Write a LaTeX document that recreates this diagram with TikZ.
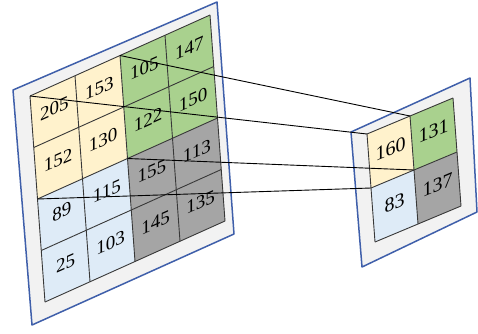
\documentclass[tikz,border=0pt]{standalone}
\usepackage{fontspec}
\setmainfont{Liberation Serif}
\usetikzlibrary{calc}
\definecolor{CellCream}{HTML}{FFF2CC}
\definecolor{CellGreen}{HTML}{A9D18E}
\definecolor{CellBlue}{HTML}{DEEBF7}
\definecolor{CellGray}{HTML}{A5A5A5}
\definecolor{FrameFill}{HTML}{F2F2F2}
\definecolor{FrameBlue}{HTML}{3F5FAA}
\definecolor{GridDark}{HTML}{383838}

\begin{document}
\begin{tikzpicture}[x=1pt, y=-1pt,
    frame/.style={fill=FrameFill, draw=FrameBlue, line width=1.5pt, line join=round},
    gridline/.style={draw=GridDark, line width=0.9pt},
    link/.style={draw=black, line width=0.9pt},
    leftnum/.style={inner sep=0pt, font=\fontsize{19}{19}\selectfont, yslant=0.45},
    rightnum/.style={inner sep=0pt, font=\fontsize{20}{20}\selectfont, yslant=0.42}]
  \useasboundingbox (0,0) rectangle (478,333);

  % --- GEOMETRIC VARIABLES ---
  % input grid: corner, column step, row step
  \def\LX{30}   \def\LY{96}
  \def\LUx{45}  \def\LUy{-20.25}
  \def\LVx{3.75}\def\LVy{51.5}
  % pooled grid
  \def\RX{367}  \def\RY{134}
  \def\RUx{43}  \def\RUy{-18}
  \def\RVx{4}   \def\RVy{54}

  % =====================================================================
  % 1. FRAMES
  % =====================================================================
  \draw[frame] (13,90) -- (217,2) -- (234,234) -- (32,325) -- cycle;
  \draw[frame] (351,132) -- (470,78) -- (477,212) -- (362,267) -- cycle;

  % corner points of both grids
  \foreach \r in {0,...,4}
    \foreach \c in {0,...,4}
      \coordinate (L-\r-\c) at ({\LX+\LUx*\c+\LVx*\r},{\LY+\LUy*\c+\LVy*\r});
  \foreach \r in {0,1,2}
    \foreach \c in {0,1,2}
      \coordinate (R-\r-\c) at ({\RX+\RUx*\c+\RVx*\r},{\RY+\RUy*\c+\RVy*\r});

  % =====================================================================
  % 2. INPUT GRID (4x4, four 2x2 pooling windows)
  % =====================================================================
  \fill[CellCream] (L-0-0) -- (L-0-2) -- (L-2-2) -- (L-2-0) -- cycle;
  \fill[CellGreen] (L-0-2) -- (L-0-4) -- (L-2-4) -- (L-2-2) -- cycle;
  \fill[CellBlue]  (L-2-0) -- (L-2-2) -- (L-4-2) -- (L-4-0) -- cycle;
  \fill[CellGray]  (L-2-2) -- (L-2-4) -- (L-4-4) -- (L-4-2) -- cycle;
  \foreach \i in {0,...,4} {
    \draw[gridline] (L-\i-0) -- (L-\i-4);
    \draw[gridline] (L-0-\i) -- (L-4-\i);
  }
  \foreach \val [count=\k from 0] in {205,153,105,147,152,130,122,150,89,115,155,113,25,103,145,135} {
    \pgfmathtruncatemacro\r{\k/4}
    \pgfmathtruncatemacro\c{mod(\k,4)}
    \node[leftnum] (LN-\r-\c) at ({\LX+\LUx*(\c+0.5)+\LVx*(\r+0.5)},{\LY+\LUy*(\c+0.5)+\LVy*(\r+0.5)-3}) {\val};
  }

  % =====================================================================
  % 3. POOLED GRID (2x2)
  % =====================================================================
  \fill[CellCream] (R-0-0) -- (R-0-1) -- (R-1-1) -- (R-1-0) -- cycle;
  \fill[CellGreen] (R-0-1) -- (R-0-2) -- (R-1-2) -- (R-1-1) -- cycle;
  \fill[CellBlue]  (R-1-0) -- (R-1-1) -- (R-2-1) -- (R-2-0) -- cycle;
  \fill[CellGray]  (R-1-1) -- (R-1-2) -- (R-2-2) -- (R-2-1) -- cycle;
  \foreach \i in {0,1,2} {
    \draw[gridline] (R-\i-0) -- (R-\i-2);
    \draw[gridline] (R-0-\i) -- (R-2-\i);
  }
  \foreach \val [count=\k from 0] in {160,131,83,137} {
    \pgfmathtruncatemacro\r{\k/2}
    \pgfmathtruncatemacro\c{mod(\k,2)}
    \node[rightnum] (RN-\r-\c) at ({\RX+\RUx*(\c+0.5)+\RVx*(\r+0.5)},{\RY+\RUy*(\c+0.5)+\RVy*(\r+0.5)-3}) {\val};
  }

  % =====================================================================
  % 4. WINDOW CORNERS -> OUTPUT CORNERS
  % =====================================================================
  \draw[link] (L-0-0) -- (R-0-0);
  \draw[link] (L-0-2) -- (R-0-1);
  \draw[link] (L-2-0) -- (R-1-0);
  \draw[link] (L-2-2) -- (R-1-1);

\end{tikzpicture}
\end{document}
